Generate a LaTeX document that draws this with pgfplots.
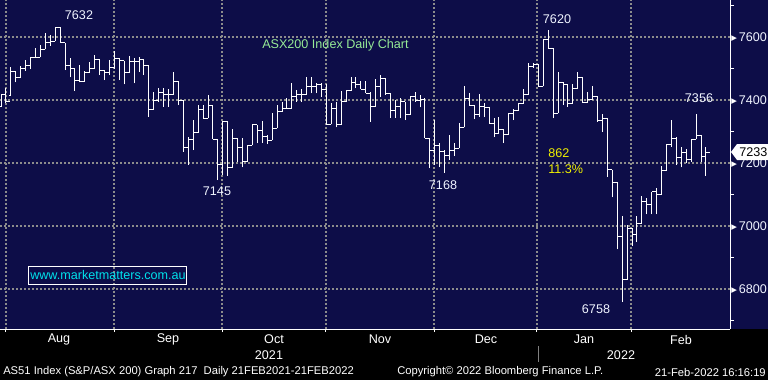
\documentclass[border=0pt]{standalone}
\usepackage{fontspec}
\setmainfont{Liberation Sans}
\newfontfamily\dvs{DejaVu Sans}
\usepackage{pgfplots}
\pgfplotsset{compat=1.18}
\usepackage{pgfplotstable}
\definecolor{bbnavy}{RGB}{13,13,72}
\definecolor{gridgray}{RGB}{140,140,140}
\definecolor{lblwhite}{RGB}{240,244,255}
\definecolor{ttlgreen}{RGB}{150,235,150}
\definecolor{urlcyan}{RGB}{0,225,235}
\definecolor{annyellow}{RGB}{240,240,0}
\newcommand\lbl{\fontsize{9.45}{11}\selectfont}
\newcommand\foot{\fontsize{8.4}{10}\selectfont}
\pgfplotstableread{
i o h l c
0 7378 7418 7378 7418
1 7418 7436 7389 7394
2 7413 7503 7413 7489
3 7489 7489 7455 7471
4 7471 7507 7471 7500
5 7500 7525 7492 7509
6 7509 7535 7497 7535
7 7535 7563 7535 7535
8 7535 7574 7535 7560
9 7560 7611 7560 7582
10 7582 7605 7571 7585
11 7585 7630 7585 7630
12 7630 7632 7580 7580
13 7580 7580 7494 7510
14 7510 7531 7471 7500
15 7500 7500 7429 7462
16 7462 7510 7455 7458
17 7458 7492 7458 7487
18 7487 7520 7487 7500
19 7500 7542 7497 7528
20 7528 7528 7478 7492
21 7492 7494 7462 7487
22 7487 7526 7478 7503
23 7503 7555 7497 7531
24 7531 7531 7462 7524
25 7524 7524 7449 7485
26 7485 7538 7485 7520
27 7520 7531 7452 7520
28 7520 7535 7489 7528
29 7528 7528 7478 7510
30 7510 7510 7346 7370
31 7370 7425 7370 7399
32 7399 7436 7392 7423
33 7423 7438 7378 7415
34 7415 7433 7378 7415
35 7415 7487 7415 7459
36 7459 7459 7383 7399
37 7399 7399 7235 7249
38 7249 7283 7193 7274
39 7274 7335 7240 7295
40 7295 7383 7295 7370
41 7370 7383 7339 7341
42 7341 7415 7341 7383
43 7383 7383 7274 7274
44 7274 7274 7145 7193
45 7193 7332 7161 7332
46 7332 7332 7158 7185
47 7185 7307 7185 7277
48 7277 7277 7203 7249
49 7249 7277 7185 7203
50 7203 7256 7203 7256
51 7256 7322 7256 7320
52 7320 7320 7262 7302
53 7302 7331 7262 7283
54 7283 7288 7259 7272
55 7272 7357 7272 7310
56 7310 7383 7310 7362
57 7362 7394 7362 7373
58 7373 7404 7373 7373
59 7373 7452 7373 7410
60 7410 7431 7394 7415
61 7415 7433 7392 7415
62 7415 7471 7415 7441
63 7441 7471 7420 7441
64 7441 7454 7420 7447
65 7447 7452 7408 7433
66 7433 7450 7322 7322
67 7322 7389 7322 7371
68 7371 7394 7312 7320
69 7320 7428 7320 7394
70 7394 7428 7392 7428
71 7428 7473 7428 7455
72 7455 7471 7436 7447
73 7447 7460 7433 7433
74 7433 7460 7420 7420
75 7420 7425 7330 7378
76 7378 7465 7378 7441
77 7441 7478 7408 7468
78 7468 7468 7415 7420
79 7420 7420 7343 7367
80 7367 7399 7343 7378
81 7378 7404 7341 7394
82 7394 7394 7335 7352
83 7352 7412 7352 7410
84 7410 7425 7394 7399
85 7399 7415 7376 7401
86 7401 7404 7277 7277
87 7277 7277 7182 7240
88 7240 7334 7193 7256
89 7256 7262 7185 7235
90 7235 7240 7168 7222
91 7222 7288 7209 7240
92 7240 7262 7221 7246
93 7246 7325 7246 7312
94 7312 7443 7312 7404
95 7404 7420 7383 7383
96 7383 7383 7338 7352
97 7352 7417 7346 7378
98 7378 7389 7345 7376
99 7376 7376 7325 7325
100 7325 7341 7281 7293
101 7293 7346 7293 7304
102 7304 7304 7262 7291
103 7291 7357 7291 7355
104 7355 7370 7335 7365
105 7365 7389 7365 7387
106 7387 7433 7387 7418
107 7418 7515 7418 7505
108 7505 7517 7500 7513
109 7513 7513 7443 7443
110 7443 7590 7443 7590
111 7590 7620 7563 7563
112 7563 7563 7341 7357
113 7357 7487 7357 7455
114 7455 7455 7383 7447
115 7447 7447 7378 7387
116 7387 7450 7387 7436
117 7436 7487 7436 7471
118 7471 7471 7390 7392
119 7392 7425 7390 7400
120 7400 7443 7400 7410
121 7410 7410 7330 7333
122 7333 7355 7298 7341
123 7341 7341 7156 7177
124 7177 7177 7090 7138
125 7138 7138 6925 6965
126 6965 7031 6758 6828
127 6828 7002 6828 6992
128 6992 6992 6937 6973
129 6973 7031 6948 7007
130 7007 7094 7007 7077
131 7077 7087 7036 7068
132 7068 7107 7036 7107
133 7107 7119 7036 7099
134 7099 7190 7099 7174
135 7174 7259 7174 7259
136 7259 7335 7251 7277
137 7277 7282 7193 7217
138 7217 7251 7185 7231
139 7231 7243 7198 7209
140 7209 7275 7203 7275
141 7275 7356 7275 7287
142 7287 7287 7203 7219
143 7219 7249 7159 7233
}\ohlc
\begin{document}
\begin{tikzpicture}[x=0.75pt,y=0.75pt]
\fill[black] (0,0) rectangle (768,380);
\fill[bbnavy] (0,51) rectangle (768,380);
\begin{axis}[
  at={(0pt,38.25pt)}, anchor=south west, scale only axis,
  width=547.5pt, height=246.75pt,
  xmin=-0.203, xmax=147.87, ymin=6672, ymax=7716.5,
  axis x line*=bottom, axis y line*=right,
  axis line style={white, line width=0.75pt, -},
  xtick={1.01,22.98,44.83,65.92,87.83,108.7,127.8},
  xticklabels={},
  ytick={6800,7000,7200,7400,7600},
  minor ytick={6700,6900,7100,7300,7500,7700},
  grid=major,
  major grid style={gridgray, line width=1.5pt, dash pattern=on 1.5pt off 1.5pt},
  tick align=outside,
  major tick length=2.25pt, minor tick length=3pt,
  major x tick style={white, line width=0.75pt},
  major y tick style={draw=none},
  minor y tick style={white, line width=0.75pt},
  yticklabel style={text=lblwhite, font=\lbl, anchor=west, inner sep=0pt, xshift=-1.5pt},
  yticklabel={\textcolor{white}{\dvs\fontsize{5.5}{6}\selectfont\raisebox{0.6pt}{▶}}\hspace{1.5pt}\pgfmathprintnumber{\tick}},
  /pgf/number format/1000 sep={},
  /pgf/number format/assume math mode=true,
]
\addplot[draw=none, mark=none,
  error bars/.cd, y dir=plus, y explicit, error mark=none,
  error bar style={draw=white, solid, line width=0.75pt}]
  table[x=i, y=l, y error expr=\thisrow{h}-\thisrow{l}] {\ohlc};
\addplot[draw=white, only marks, mark=-, mark size=0.8pt,
  mark options={draw=white, solid, line width=0.75pt, xshift=-0.8pt}]
  table[x=i, y=o] {\ohlc};
\addplot[draw=white, only marks, mark=-, mark size=1.45pt,
  mark options={draw=white, solid, line width=0.75pt, xshift=1.45pt}]
  table[x=i, y=c] {\ohlc};
\end{axis}
% last price tag
\fill[white] (731,228) -- (737,236) -- (768,236) -- (768,220) -- (737,220) -- cycle;
\node[black, font=\lbl, anchor=west, inner sep=0pt] at (739,228) {7233};
% annotations
\begin{scope}[every node/.style={font=\lbl, text=lblwhite, inner sep=0pt}]
\node at (79,365) {7632};
\node at (557,361) {7620};
\node at (217,189) {7145};
\node at (443,195) {7168};
\node at (699,282) {7356};
\node at (596,71) {6758};
\end{scope}
\node[font=\lbl, text=annyellow, anchor=west, inner sep=0pt] at (548,227) {862};
\node[font=\lbl, text=annyellow, anchor=west, inner sep=0pt] at (548,211) {11.3\%};
\node[font=\lbl, text=ttlgreen, anchor=west, inner sep=0pt] at (262,335) {ASX200 Index Daily Chart};
\draw[white, line width=0.75pt] (28,114) rectangle (186,96);
\node[font=\lbl, text=urlcyan, anchor=west, inner sep=0pt] at (30,105) {www.marketmatters.com.au};
% month labels
\begin{scope}[every node/.style={font=\lbl, text=white, inner sep=0pt}]
\node at (59,40.5) {Aug};
\node at (168,40.5) {Sep};
\node at (274,40.5) {Oct};
\node at (380,40.5) {Nov};
\node at (486,40.5) {Dec};
\node at (584,40.5) {Jan};
\node at (681,40.5) {Feb};
\node at (269,25) {2021};
\node at (621,25) {2022};
\end{scope}
\draw[gray, line width=0.75pt] (538,34) -- (538,18);
% footer
\node[font=\foot, text=white, anchor=west, inner sep=0pt] at (3,8) {AS51 Index (S\&P/ASX 200) Graph 217\ \ Daily 21FEB2021-21FEB2022};
\node[font=\foot, text=white, anchor=west, inner sep=0pt] at (397,8) {Copyright© 2022 Bloomberg Finance L.P.};
\node[font=\foot, text=white, anchor=east, inner sep=0pt] at (766,8) {21-Feb-2022 16:16:19};
\pgfresetboundingbox
\useasboundingbox (0,0) rectangle (768,380);
\end{tikzpicture}
\end{document}
